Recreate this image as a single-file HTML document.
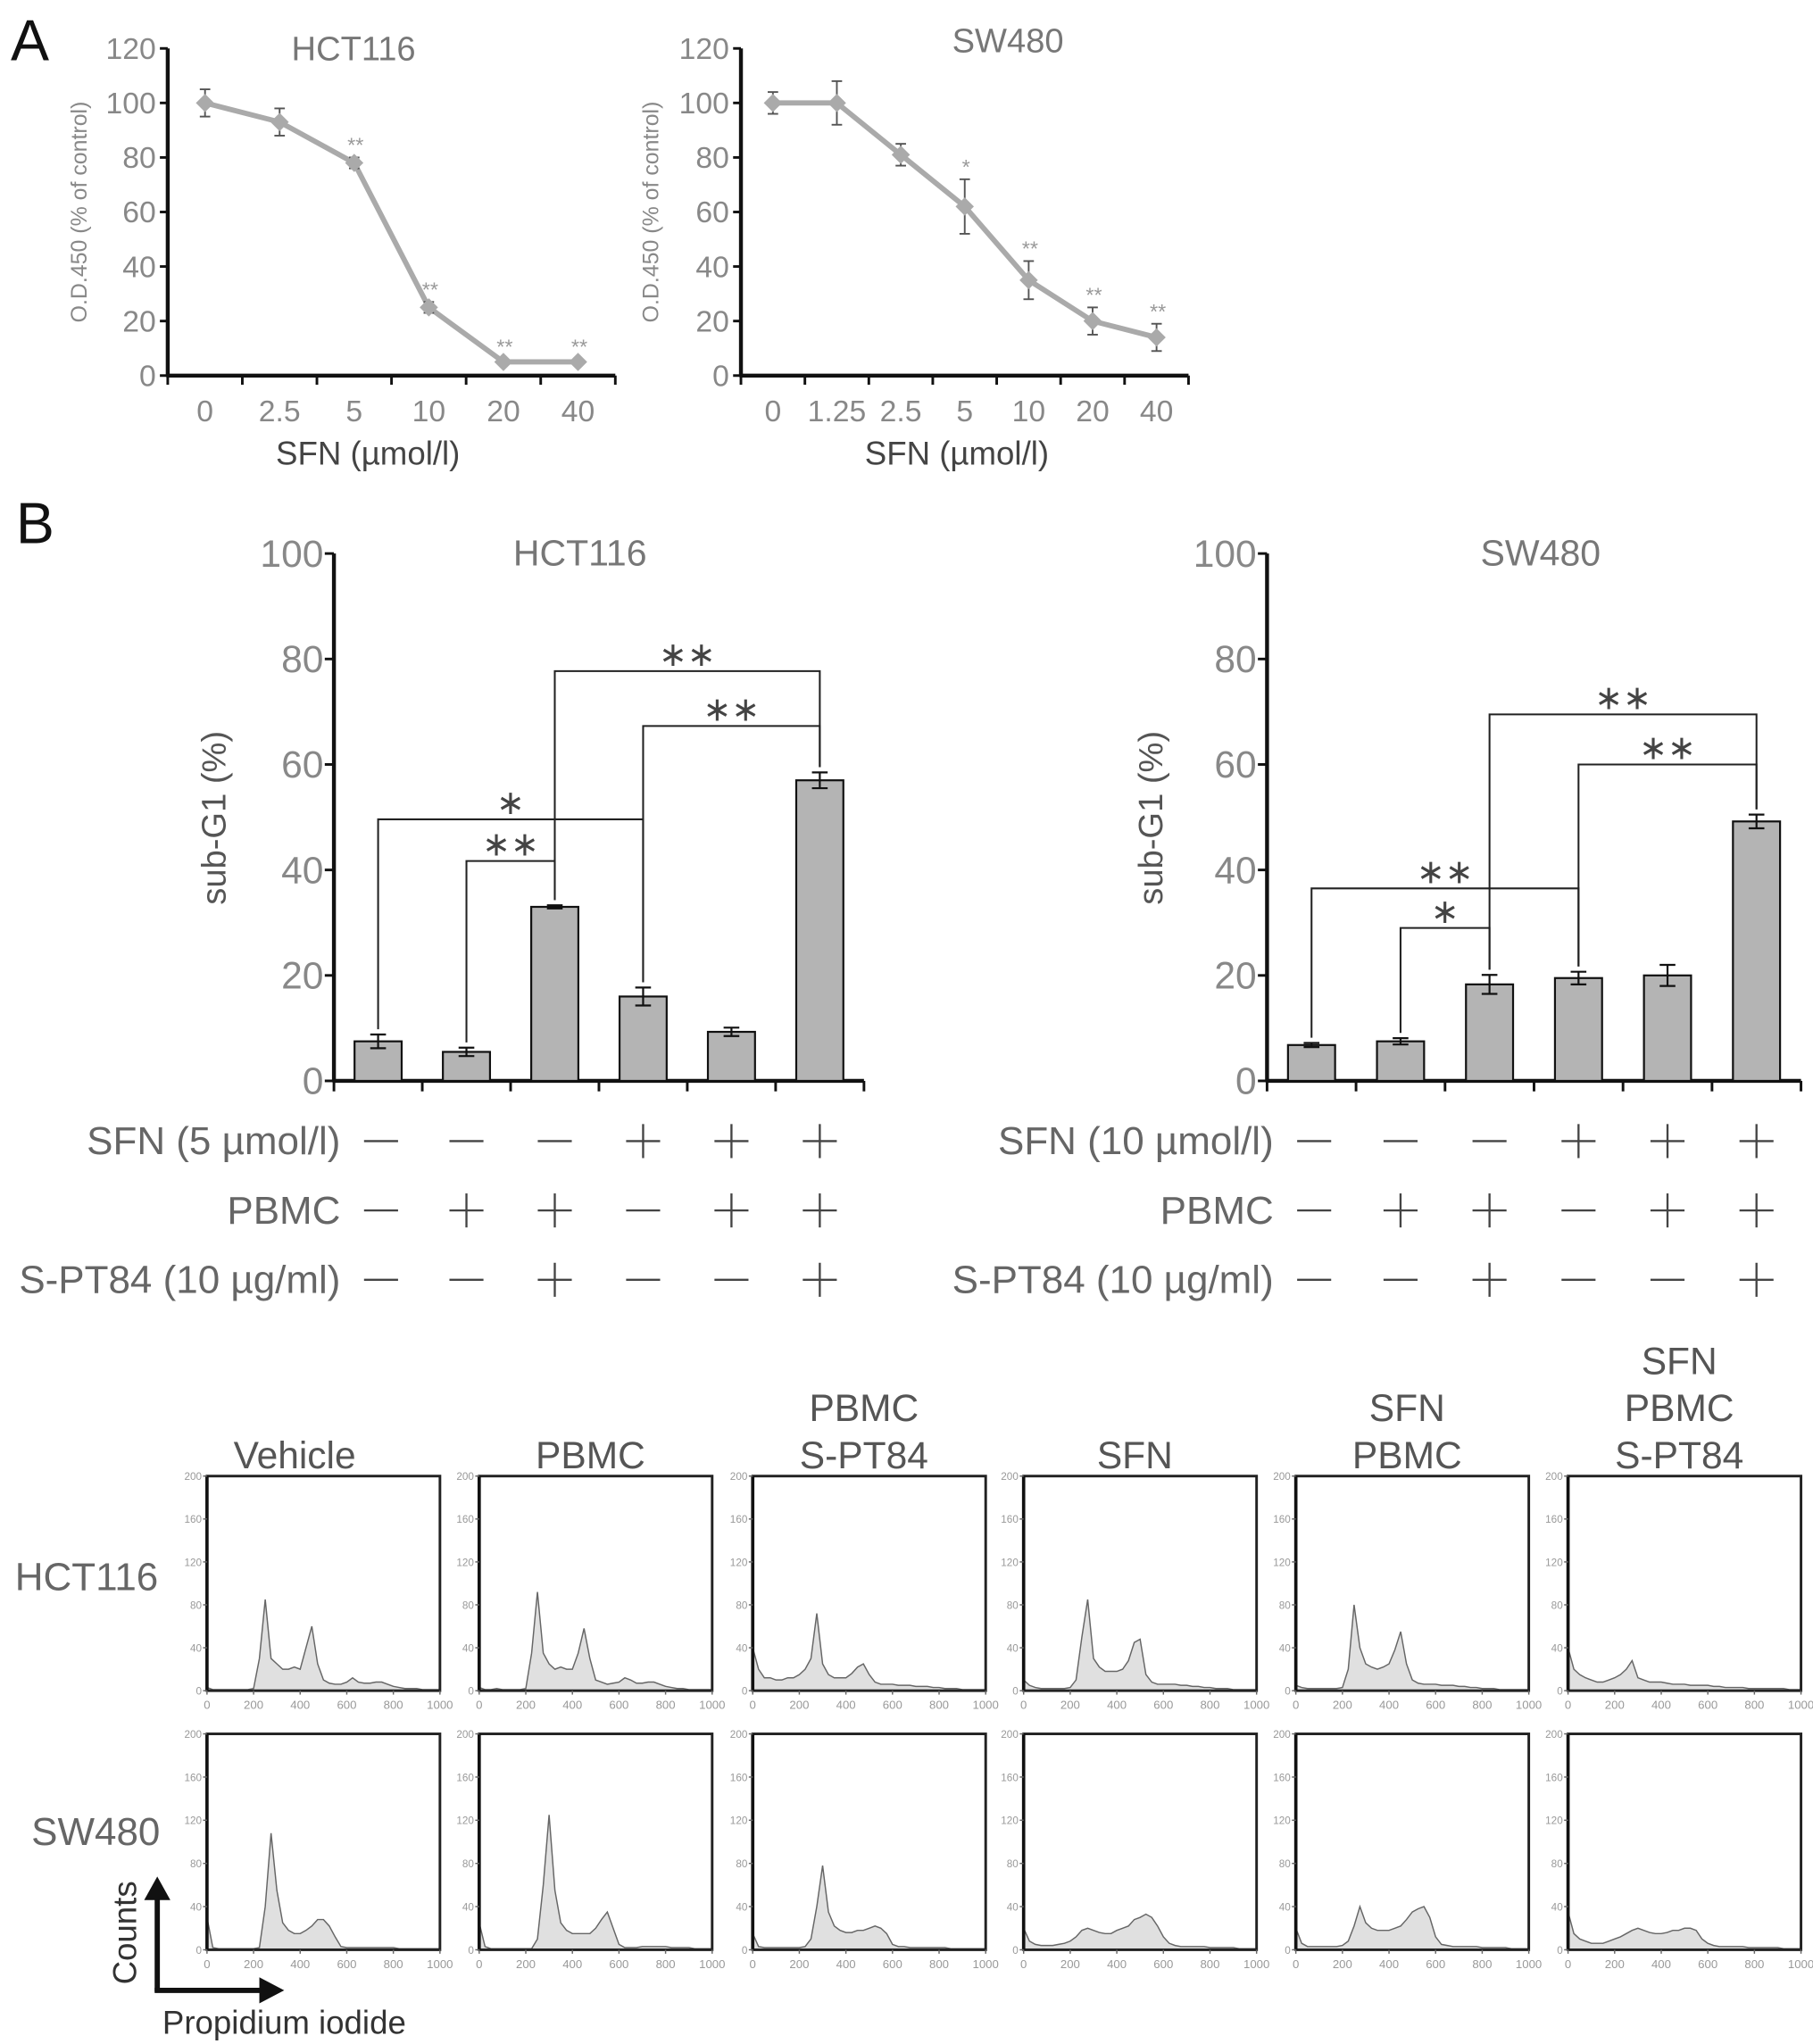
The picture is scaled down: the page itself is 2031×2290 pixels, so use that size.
<!DOCTYPE html>
<html><head><meta charset="utf-8">
<style>
html,body{margin:0;padding:0;background:#fff;}
svg{display:block;}
text{font-family:"Liberation Sans",sans-serif;}
</style></head>
<body>
<svg id="fig" width="2031" height="2290" viewBox="0 0 1385 1562" xmlns="http://www.w3.org/2000/svg">
<rect width="1385" height="1562" fill="#fff"/>
</svg>
<script>
// ---------- DATA ----------
const aHctCats = ['0','2.5','5','10','20','40'];
const aHctVals = [100,93,78,25,5,5];
const aHctErr = [5,5,2,2,1,1];
const aHctStars = ['','','**','**','**','**'];
const aSwCats = ['0','1.25','2.5','5','10','20','40'];
const aSwVals = [100,100,81,62,35,20,14];
const aSwErr = [4,8,4,10,7,5,5];
const aSwStars = ['','','','*','**','**','**'];
const aTicks = [0,20,40,60,80,100,120];

const bTicks = [0,20,40,60,80,100];
const bHctVals = [7.5,5.5,33,16,9.3,57];
const bHctErr = [1.3,0.8,0.3,1.7,0.8,1.5];
const bSwVals = [6.8,7.5,18.3,19.5,20,49.2];
const bSwErr = [0.4,0.6,1.8,1.2,2,1.3];
const rowSFN = ['-','-','-','+','+','+'];
const rowPBMC = ['-','+','+','-','+','+'];
const rowSPT = ['-','-','+','-','-','+'];
// brackets: [fromIdx,toIdx,level,label]
const bHctBrackets = [[0,3,49.6,'*'],[1,2,41.7,'**'],[2,5,77.7,'**'],[3,5,67.3,'**']];
const bSwBrackets = [[0,3,36.5,'**'],[1,2,29,'*'],[2,5,69.5,'**'],[3,5,60,'**']];

const histTitles = [['Vehicle'],['PBMC'],['PBMC','S-PT84'],['SFN'],['SFN','PBMC'],['SFN','PBMC','S-PT84']];
const histTicksX = [0,200,400,600,800,1000];
const histTicksY = [0,40,80,120,160,200];
// counts per 25-unit bin, 0..1000
const hHct = [
[3,1,1,1,1,1,1,1,2,30,85,30,25,20,20,22,20,40,60,25,10,7,6,6,8,12,8,7,7,8,8,6,4,3,2,2,2,1,1,1,1],
[3,1,1,2,1,1,1,1,2,35,92,35,25,20,22,20,20,35,58,30,10,8,6,7,8,12,10,7,7,8,8,6,4,3,2,2,1,1,1,1,1],
[40,20,12,12,10,10,12,12,15,20,30,72,25,15,12,12,12,16,22,25,15,8,6,6,6,5,5,5,4,4,4,3,3,2,2,2,1,1,1,1,1],
[10,5,3,2,2,2,2,2,3,10,50,85,30,22,18,18,18,20,28,45,48,15,8,6,6,6,6,5,5,4,4,3,3,2,2,2,1,1,1,1,1],
[5,3,2,2,2,2,2,2,3,20,80,40,25,22,20,22,25,38,55,25,10,7,6,6,6,5,5,5,4,4,3,3,2,2,2,1,1,1,1,1,1],
[40,20,15,12,10,8,8,10,12,15,20,28,12,10,8,8,8,7,6,6,6,5,5,5,5,4,4,3,3,3,3,2,2,2,2,2,2,2,1,1,1]];
const hSw = [
[30,2,1,1,1,1,1,1,1,2,40,108,55,25,18,15,15,18,22,28,28,22,12,3,2,2,2,2,2,2,2,2,2,1,1,1,1,1,1,1,1],
[25,3,1,1,1,1,1,1,1,1,10,60,125,55,25,18,15,15,15,15,20,28,35,20,5,2,2,2,3,3,3,3,3,2,2,2,2,1,1,1,1],
[15,3,2,2,2,2,2,2,2,3,10,40,78,35,22,18,16,16,18,18,20,22,20,15,5,3,3,2,2,2,2,2,2,2,1,1,1,1,1,1,1],
[20,8,5,4,4,4,5,6,8,12,18,20,18,16,15,15,18,20,22,28,30,33,30,22,12,6,4,3,3,3,3,3,2,2,2,2,2,1,1,1,1],
[20,6,3,3,3,3,3,3,4,8,22,40,25,20,18,18,18,20,22,28,35,38,40,30,12,5,4,3,3,3,3,3,2,2,2,2,2,1,1,1,1],
[35,15,10,8,6,6,6,8,10,12,15,18,20,18,16,15,15,16,18,18,20,20,18,10,6,4,3,3,3,3,3,2,2,2,2,2,2,1,1,1,1]];

// ---------- helpers ----------
const NS='http://www.w3.org/2000/svg';
const svg=document.getElementById('fig');
function mk(tag,attrs,parent,txt){const e=document.createElementNS(NS,tag);for(const k in attrs)e.setAttribute(k,attrs[k]);if(txt!==undefined)e.textContent=txt;(parent||svg).appendChild(e);return e;}
function grp(name,parent){const g=mk('g',{},parent);return g;}

// ---------- panel letters ----------
let t=mk('text',{x:8,y:46,'font-size':44,fill:'#111'},svg,'A');


t=mk('text',{x:12,y:415,'font-size':44,fill:'#111'},svg,'B');



// ---------- Panel A line charts ----------
function lineChart(name,cfg,cats,vals,errs,stars){
  const g=grp(name);
  const y0=287,y1=37,ax=cfg.ax,ax2=cfg.ax2;
  const ys=v=>y0-(v-0)/(120)*(y0-y1);
  const step=(ax2-ax)/cats.length;
  const xs=i=>ax+step*(i+0.5);
  mk('line',{x1:ax,y1:y1,x2:ax,y2:y0+1,stroke:'#111','stroke-width':3},g);
  mk('line',{x1:ax-1,y1:y0,x2:ax2,y2:y0,stroke:'#111','stroke-width':3},g);
  aTicks.forEach(v=>{mk('line',{x1:ax-6,y1:ys(v),x2:ax,y2:ys(v),stroke:'#111','stroke-width':2},g);
    const l=mk('text',{x:ax-9,y:ys(v)+8,'font-size':23,fill:'#888','text-anchor':'end'},g,String(v));
    
    });
  for(let i=0;i<=cats.length;i++)mk('line',{x1:ax+step*i,y1:y0,x2:ax+step*i,y2:y0+7,stroke:'#111','stroke-width':2},g);
  cats.forEach((c,i)=>{const l=mk('text',{x:xs(i),y:322,'font-size':23,fill:'#888','text-anchor':'middle'},g,c);
    
    });
  const yl=mk('text',{x:0,y:0,'font-size':17,fill:'#888','text-anchor':'middle',transform:`translate(${cfg.ylx},162) rotate(-90)`},g,'O.D.450 (% of control)');
  
  
  const xl=mk('text',{x:cfg.xlx,y:355,'font-size':25,fill:'#444','text-anchor':'middle'},g,'SFN (µmol/l)');
  
  
  const tl=mk('text',{x:cfg.tx,y:cfg.ty,'font-size':26,fill:'#777','text-anchor':'middle'},g,cfg.title);
  
  
  const pts=vals.map((v,i)=>xs(i)+','+ys(v)).join(' ');
  const pl=mk('polyline',{points:pts,fill:'none',stroke:'#aaa','stroke-width':4},g);
  
  
  vals.forEach((v,i)=>{const x=xs(i),e=errs[i];
    mk('line',{x1:x,y1:ys(v+e),x2:x,y2:ys(v-e),stroke:'#555','stroke-width':1.3},g);
    mk('line',{x1:x-4,y1:ys(v+e),x2:x+4,y2:ys(v+e),stroke:'#555','stroke-width':1.3},g);
    mk('line',{x1:x-4,y1:ys(v-e),x2:x+4,y2:ys(v-e),stroke:'#555','stroke-width':1.3},g);
    const m=mk('path',{d:`M${x} ${ys(v)-7} L${x+7} ${ys(v)} L${x} ${ys(v)+7} L${x-7} ${ys(v)} Z`,fill:'#aaa'},g);
    
    
    if(stars[i]){const s=mk('text',{x:x+1,y:ys(v+e)-4,'font-size':16,fill:'#999','text-anchor':'middle'},g,stars[i]);
      
      }
  });
}
lineChart('chart-a-hct116',{ax:128,ax2:470,ylx:66,tx:270,ty:46,xlx:281,title:'HCT116'},aHctCats,aHctVals,aHctErr,aHctStars);
lineChart('chart-a-sw480',{ax:566,ax2:908,ylx:503,tx:770,ty:40,xlx:731,title:'SW480'},aSwCats,aSwVals,aSwErr,aSwStars);

// ---------- Panel B bar charts ----------
function barChart(name,cfg,vals,errs,brackets){
  const g=grp(name);
  const y0=826,y1=423,ax=cfg.ax,ax2=cfg.ax2;
  const ys=v=>y0-v/100*(y0-y1);
  const step=(ax2-ax)/vals.length;
  const xs=i=>ax+step*(i+0.5);
  mk('line',{x1:ax,y1:y1,x2:ax,y2:y0+1,stroke:'#111','stroke-width':3},g);
  mk('line',{x1:ax-1,y1:y0,x2:ax2,y2:y0,stroke:'#111','stroke-width':3},g);
  bTicks.forEach(v=>{mk('line',{x1:ax-7,y1:ys(v),x2:ax,y2:ys(v),stroke:'#111','stroke-width':2},g);
    const l=mk('text',{x:ax-8,y:ys(v)+10,'font-size':29,fill:'#888','text-anchor':'end'},g,String(v));
    
    });
  for(let i=0;i<=vals.length;i++)mk('line',{x1:ax+step*i,y1:y0,x2:ax+step*i,y2:y0+8,stroke:'#111','stroke-width':2},g);
  const yl=mk('text',{x:0,y:0,'font-size':26,fill:'#555','text-anchor':'middle',transform:`translate(${cfg.ylx},625) rotate(-90)`},g,'sub-G1 (%)');
  
  
  const tl=mk('text',{x:cfg.tx,y:432,'font-size':28,fill:'#777','text-anchor':'middle'},g,cfg.title);
  
  
  const bw=36;
  vals.forEach((v,i)=>{const x=xs(i),e=errs[i];
    const b=mk('rect',{x:x-bw/2,y:ys(v),width:bw,height:y0-ys(v),fill:'#b4b4b4',stroke:'#111','stroke-width':1.5},g);
    
    
    mk('line',{x1:x,y1:ys(v+e),x2:x,y2:ys(v-e),stroke:'#111','stroke-width':1.5},g);
    mk('line',{x1:x-6,y1:ys(v+e),x2:x+6,y2:ys(v+e),stroke:'#111','stroke-width':1.5},g);
    mk('line',{x1:x-6,y1:ys(v-e),x2:x+6,y2:ys(v-e),stroke:'#111','stroke-width':1.5},g);
  });
  brackets.forEach(br=>{const [a,b,lv,lab]=br;const yy=ys(lv);
    const xa=xs(a),xb=xs(b);
    const p=mk('path',{d:`M${xa} ${ys(vals[a]+errs[a])-4} L${xa} ${yy} L${xb} ${yy} L${xb} ${ys(vals[b]+errs[b])-4}`,fill:'none',stroke:'#222','stroke-width':1.4},g);
    
    
    const s=mk('text',{x:(xa+xb)/2,y:yy-4,'font-size':26,fill:'#444','text-anchor':'middle'},g,lab.replace(/\*/g,'∗'));
    
    
  });
  const rows=[[cfg.l1,rowSFN,872],['PBMC',rowPBMC,925],['S-PT84 (10 µg/ml)',rowSPT,978]];
  rows.forEach(r=>{
    const l=mk('text',{x:ax+5,y:r[2]+10,'font-size':30,fill:'#666','text-anchor':'end'},g,r[0]);
    
    
    r[1].forEach((s,i)=>{const x=i===0?ax+36:xs(i),y=r[2];
      mk('line',{x1:x-13,y1:y,x2:x+13,y2:y,stroke:'#444','stroke-width':1.6},g);
      if(s==='+')mk('line',{x1:x,y1:y-13,x2:x,y2:y+13,stroke:'#444','stroke-width':1.6},g);
    });
  });
}
barChart('chart-b-hct116',{ax:255,ax2:660,ylx:172,tx:443,title:'HCT116',l1:'SFN (5 µmol/l)'},bHctVals,bHctErr,bHctBrackets);
barChart('chart-b-sw480',{ax:968,ax2:1376,ylx:888,tx:1177,title:'SW480',l1:'SFN (10 µmol/l)'},bSwVals,bSwErr,bSwBrackets);

// ---------- Flow histograms ----------
const colX=[158,366,575,782,990,1198];
const rowY=[[1128,1292],[1325,1490]];
const bw=178;
function hist(name,x,yt,yb,data){
  const g=grp(name);
  const xs=v=>x+v/1000*bw;
  const ys=v=>yb-v/200*(yb-yt);
  let d=`M${xs(0)} ${yb}`;
  data.forEach((v,i)=>{d+=` L${xs(i*25)} ${ys(v)}`;});
  d+=` L${xs(1000)} ${yb} Z`;
  const p=mk('path',{d:d,fill:'#e0e0e0',stroke:'#666','stroke-width':1},g);
  
  
  mk('rect',{x:x,y:yt,width:bw,height:yb-yt,fill:'none',stroke:'#222','stroke-width':2},g);
  mk('line',{x1:x,y1:yt,x2:x,y2:yb,stroke:'#111','stroke-width':2.5},g);
  histTicksY.forEach(v=>{mk('line',{x1:x-3,y1:ys(v),x2:x,y2:ys(v),stroke:'#666','stroke-width':1},g);
    mk('text',{x:x-4,y:ys(v)+3,'font-size':8,fill:'#999','text-anchor':'end'},g,String(v));});
  histTicksX.forEach(v=>{mk('line',{x1:xs(v),y1:yb,x2:xs(v),y2:yb+3,stroke:'#666','stroke-width':1},g);
    mk('text',{x:xs(v),y:yb+14,'font-size':9,fill:'#999','text-anchor':'middle'},g,String(v));});
}
hHct.forEach((d,i)=>hist('histogram-hct116-'+(i+1),colX[i],rowY[0][0],rowY[0][1],d));
hSw.forEach((d,i)=>hist('histogram-sw480-'+(i+1),colX[i],rowY[1][0],rowY[1][1],d));
histTitles.forEach((lines,i)=>{
  const n=lines.length;
  lines.forEach((s,j)=>{
    const l=mk('text',{x:colX[i]+bw/2-4+(i===0?-18:0),y:1122-(n-1-j)*36,'font-size':29,fill:'#555','text-anchor':'middle'},svg,s);
    
    
  });
});
t=mk('text',{x:66,y:1215,'font-size':30,fill:'#666','text-anchor':'middle'},svg,'HCT116');


t=mk('text',{x:73,y:1410,'font-size':30,fill:'#666','text-anchor':'middle'},svg,'SW480');


// axes arrows
const ag=grp('axis-arrows');
mk('line',{x1:120,y1:1522,x2:120,y2:1450,stroke:'#111','stroke-width':4},ag);
mk('path',{d:'M110 1452 L120 1434 L130 1452 Z',fill:'#111'},ag);
mk('line',{x1:118,y1:1521,x2:200,y2:1521,stroke:'#111','stroke-width':4},ag);
mk('path',{d:'M198 1511 L217 1521 L198 1531 Z',fill:'#111'},ag);
t=mk('text',{x:0,y:0,'font-size':25,fill:'#333','text-anchor':'middle',transform:'translate(104,1477) rotate(-90)'},svg,'Counts');


t=mk('text',{x:217,y:1554,'font-size':25,fill:'#333','text-anchor':'middle'},svg,'Propidium iodide');


</script>
</body></html>
